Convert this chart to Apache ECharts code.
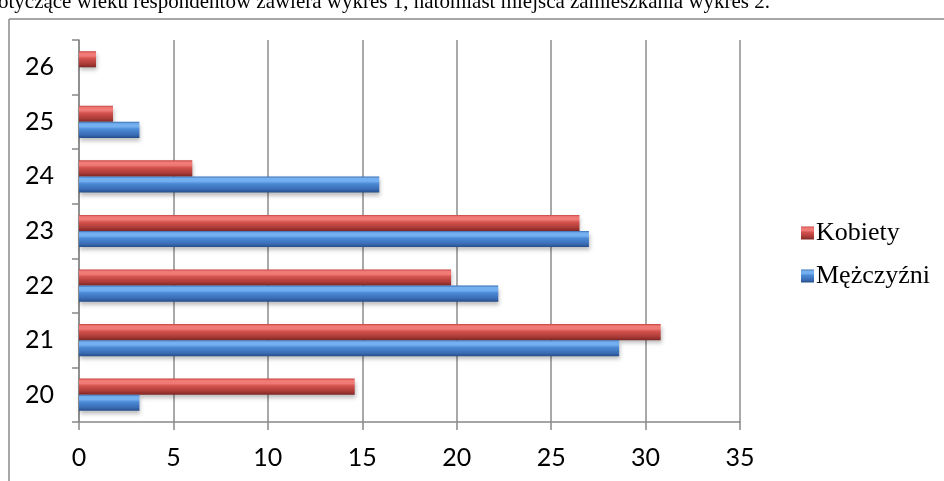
<!DOCTYPE html>
<html>
<head>
<meta charset="utf-8">
<script src="https://cdn.jsdelivr.net/npm/echarts@6/dist/echarts.min.js"></script>
<style>
  html, body { margin: 0; padding: 0; background: #ffffff; }
  #chart { width: 944px; height: 481px; }
</style>
</head>
<body>
<div id="chart"></div>
<script>
// Age of respondents (years) and share per group
const ages = ['20', '21', '22', '23', '24', '25', '26'];
const men = [3.2, 28.6, 22.2, 27.0, 15.9, 3.2, 0];
const women = [14.6, 30.8, 19.7, 26.5, 6.0, 1.8, 0.9];
const valueMin = 0;
const valueMax = 35;
const valueStep = 5;
const headerLine = 'otyczące wieku respondentów zawiera wykres 1, natomiast miejsca zamieszkania wykres 2.';

// glossy bevelled fills
function glossy(top, light, mid, low, edge) {
  return new echarts.graphic.LinearGradient(0, 0, 0, 1, [
    { offset: 0, color: top },
    { offset: 0.12, color: light },
    { offset: 0.3, color: light },
    { offset: 0.45, color: mid },
    { offset: 0.8, color: low },
    { offset: 1, color: edge }
  ]);
}
const redFill = glossy('#c8413e', '#f07a76', '#d4524e', '#a83a36', '#7e2624');
const blueFill = glossy('#3a6fb4', '#74b0f0', '#4c8ad6', '#3a6cb4', '#254d8a');

const barShadow = {
  shadowColor: 'rgba(0,0,0,0.25)',
  shadowBlur: 4,
  shadowOffsetX: 1,
  shadowOffsetY: 3
};

const chart = echarts.init(document.getElementById('chart'), null, { renderer: 'canvas' });

chart.setOption({
  animation: false,
  backgroundColor: '#ffffff',
  grid: { left: 79, right: 204, top: 40, bottom: 59, containLabel: false },
  legend: {
    orient: 'vertical',
    left: 796,
    top: 215,
    data: ['Kobiety', 'Mężczyźni'],
    itemWidth: 13,
    itemHeight: 13,
    itemGap: 17,
    icon: 'rect',
    textStyle: { fontFamily: 'Liberation Serif', fontSize: 26, color: '#000', lineHeight: 26, padding: [0, 0, 0, -3] }
  },
  xAxis: {
    type: 'value',
    min: valueMin,
    max: valueMax,
    interval: valueStep,
    axisLine: { show: true, lineStyle: { color: '#888888', width: 1.5 } },
    axisTick: { show: true, length: 8, lineStyle: { color: '#888888', width: 1.5 } },
    splitLine: { show: true, lineStyle: { color: '#8c8c8c', width: 1.5 } },
    axisLabel: { margin: 23, fontFamily: 'Lato', fontSize: 25, color: '#000' }
  },
  yAxis: {
    type: 'category',
    data: ages,
    axisLine: { show: true, lineStyle: { color: '#888888', width: 1.5 } },
    axisTick: { show: true, length: 7, lineStyle: { color: '#888888', width: 1.5 } },
    axisLabel: { margin: 25, fontFamily: 'Lato', fontSize: 25, color: '#000' }
  },
  series: [
    {
      name: 'Kobiety',
      type: 'bar',
      data: women,
      barCategoryGap: '41%',
      barGap: '0%',
      itemStyle: Object.assign({ color: redFill }, barShadow)
    },
    {
      name: 'Mężczyźni',
      type: 'bar',
      data: men,
      barCategoryGap: '41%',
      barGap: '0%',
      itemStyle: Object.assign({ color: blueFill }, barShadow)
    }
  ],
  graphic: [
    {
      type: 'text',
      left: -2,
      top: -8,
      style: { text: headerLine, fontFamily: 'Liberation Serif', fontSize: 21, fill: '#000' }
    },
    {
      type: 'line',
      shape: { x1: 9, y1: 19, x2: 944, y2: 19 },
      style: { stroke: '#8a8a8a', lineWidth: 1.5 }
    },
    {
      type: 'line',
      shape: { x1: 9, y1: 19, x2: 9, y2: 481 },
      style: { stroke: '#8a8a8a', lineWidth: 1.5 }
    }
  ]
});
</script>
</body>
</html>
